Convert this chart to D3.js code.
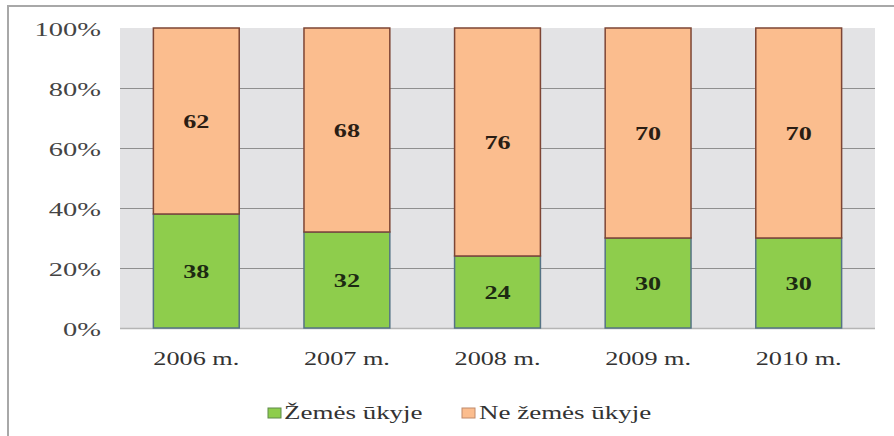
<!DOCTYPE html>
<html><head><meta charset="utf-8">
<script src="https://cdn.jsdelivr.net/npm/d3@7"></script>
<style>html,body{margin:0;padding:0;background:#fff;}svg{display:block;} text{font-family:'Liberation Serif','Times New Roman',serif;}</style>
</head><body>
<svg id="c" width="894" height="436"></svg>
<script>
const categories = ["2006 m.", "2007 m.", "2008 m.", "2009 m.", "2010 m."];
const zemes = [38, 32, 24, 30, 30];
const neZemes = [62, 68, 76, 70, 70];
const seriesNames = ["Žemės ūkyje", "Ne žemės ūkyje"];
const yTicks = [0, 20, 40, 60, 80, 100];

(function () {
const svg = d3.select("#c");
const SX = 1.38;
const pLeft = 121, pRight = 874, pTop = 28, pBottom = 328;

// frame
svg.append("rect").attr("x", 8).attr("y", 6).attr("width", 900).attr("height", 440)
  .attr("fill", "none").attr("stroke", "#a8a8a8").attr("stroke-width", 2);

const x = d3.scaleBand().domain(categories).range([pLeft, pRight]).paddingInner(0.43).paddingOuter(0.215);
const y = d3.scaleLinear().domain([0, 100]).range([pBottom, pTop]);

// plot background
svg.append("rect").attr("x", 120).attr("y", y(100)).attr("width", 755).attr("height", y(0) - y(100))
  .attr("fill", "#e3e3e5");

// gridlines
svg.append("g").selectAll("line").data(yTicks.filter(t => t > 0 && t < 100)).join("line")
  .attr("x1", 120).attr("x2", 875).attr("y1", d => y(d) + 0.5).attr("y2", d => y(d) + 0.5)
  .attr("stroke", "#8f8f8f").attr("stroke-width", 1);
svg.append("line").attr("x1", 120).attr("x2", 875).attr("y1", y(0) + 0.5).attr("y2", y(0) + 0.5)
  .attr("stroke", "#b5b5b5").attr("stroke-width", 1.5);

// y tick labels
svg.append("g").selectAll("text").data(yTicks).join("text")
  .attr("transform", d => `translate(101,${y(d) + 8}) scale(1.5,1)`)
  .attr("text-anchor", "end").attr("font-size", 19)
  .attr("fill", "#444").text(d => d + "%");

// bars
const g = svg.append("g");
categories.forEach((c, i) => {
  g.append("rect").attr("x", x(c)).attr("width", x.bandwidth())
    .attr("y", y(zemes[i])).attr("height", y(0) - y(zemes[i]))
    .attr("fill", "#8ecd4c").attr("stroke", "#557385").attr("stroke-width", 1.5);
  g.append("rect").attr("x", x(c)).attr("width", x.bandwidth())
    .attr("y", y(zemes[i] + neZemes[i])).attr("height", y(zemes[i]) - y(zemes[i] + neZemes[i]))
    .attr("fill", "#fbbd8e").attr("stroke", "#7d4534").attr("stroke-width", 1.5);
  const cx = x(c) + x.bandwidth() / 2;
  g.append("text").attr("transform", `translate(${cx},${y(zemes[i] / 2) + 7}) scale(${SX},1)`)
    .attr("text-anchor", "middle").attr("font-weight", "bold")
    .attr("font-size", 19).attr("fill", "#1d2a12").text(zemes[i]);
  g.append("text").attr("transform", `translate(${cx},${y(zemes[i] + neZemes[i] / 2) + 7}) scale(${SX},1)`)
    .attr("text-anchor", "middle").attr("font-weight", "bold")
    .attr("font-size", 19).attr("fill", "#2a1d14").text(neZemes[i]);
  svg.append("text").attr("transform", `translate(${cx},365) scale(${SX},1)`)
    .attr("text-anchor", "middle").attr("font-size", 19)
    .attr("fill", "#333").text(c);
});

// legend
const legend = [
  { name: seriesNames[0], fill: "#8ecd4c", stroke: "#5f8a4a", sx: 268, tx: 284 },
  { name: seriesNames[1], fill: "#fbbd8e", stroke: "#c08a6a", sx: 462, tx: 479 }
];
legend.forEach(l => {
  svg.append("rect").attr("x", l.sx).attr("y", 408).attr("width", 13).attr("height", 10)
    .attr("fill", l.fill).attr("stroke", l.stroke).attr("stroke-width", 1);
  svg.append("text").attr("transform", `translate(${l.tx},419) scale(1.42,1)`)
    .attr("font-size", 19).attr("fill", "#333").text(l.name);
});
})();
</script>
</body></html>
